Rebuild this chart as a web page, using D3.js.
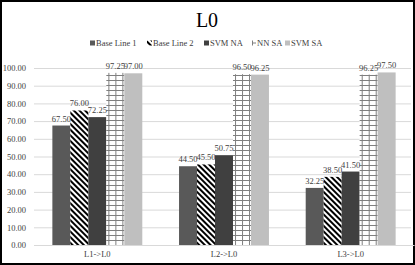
<!DOCTYPE html>
<html>
<head>
<meta charset="utf-8">
<script src="https://cdn.jsdelivr.net/npm/d3@7"></script>
<style>
  body { margin: 0; background: #fff; }
  svg text { font-family: "Liberation Serif", "DejaVu Serif", serif; fill: #404040; }
</style>
</head>
<body>
<div id="chart"></div>
<script>
// chart data
const categories = ["L1->L0", "L2->L0", "L3->L0"];
const seriesNames = ["Base Line 1", "Base Line 2", "SVM NA", "NN SA", "SVM SA"];
const baseLine1 = [67.50, 44.50, 32.25];
const baseLine2 = [76.00, 45.50, 38.50];
const svmNA = [72.25, 50.75, 41.50];
const nnSA = [97.25, 96.50, 96.25];
const svmSA = [97.00, 96.25, 97.50];
const yTicks = [0, 10, 20, 30, 40, 50, 60, 70, 80, 90, 100];

const seriesValues = [baseLine1, baseLine2, svmNA, nnSA, svmSA];

const width = 415;
const height = 265;
const margin = {top: 68, bottom: 20, left: 34, right: 1};
const serif = '"Liberation Serif", "DejaVu Serif", serif';

const svg = d3.select("#chart")
  .append("svg")
  .attr("width", width)
  .attr("height", height)
  .attr("font-family", serif);

// fills
const defs = svg.append("defs");

const stripes = defs.append("pattern")
  .attr("id", "stripes")
  .attr("patternUnits", "userSpaceOnUse")
  .attr("width", 4)
  .attr("height", 4)
  .attr("patternTransform", "rotate(-45)");
stripes.append("rect").attr("width", 4).attr("height", 4).attr("fill", "#fff");
stripes.append("rect").attr("width", 2).attr("height", 4).attr("fill", "#000");

const grid = defs.append("pattern")
  .attr("id", "grid")
  .attr("patternUnits", "userSpaceOnUse")
  .attr("width", 7)
  .attr("height", 5);
grid.append("rect").attr("width", 7).attr("height", 5).attr("fill", "#fff");
grid.append("line").attr("x1", 0.5).attr("x2", 0.5).attr("y1", 0).attr("y2", 5)
  .attr("stroke", "#7f7f7f").attr("stroke-width", 1);
grid.append("line").attr("x1", 0).attr("x2", 7).attr("y1", 0.5).attr("y2", 0.5)
  .attr("stroke", "#7f7f7f").attr("stroke-width", 1);

const fills = ["#595959", "url(#stripes)", "#404040", "url(#grid)", "#bfbfbf"];
const swatchFills = ["#595959", "#000", "#404040", "#7f7f7f", "#bfbfbf"];

// border
svg.append("rect")
  .attr("x", 1).attr("y", 1)
  .attr("width", width - 2).attr("height", height - 2)
  .attr("fill", "none")
  .attr("stroke", "#000")
  .attr("stroke-width", 2);

// title
svg.append("text")
  .attr("x", 207)
  .attr("y", 27)
  .attr("text-anchor", "middle")
  .style("font-family", serif)
  .style("font-size", "20px")
  .style("fill", "#000")
  .text("L0");

// legend
const legendX = [90, 147, 204, 251, 285];
const legend = svg.append("g").attr("id", "legend");
seriesNames.forEach((name, i) => {
  const g = legend.append("g").attr("transform", `translate(${legendX[i]},43)`);
  if (i === 3) {
    g.append("line").attr("x1", 1).attr("x2", 5).attr("y1", 0).attr("y2", 0)
      .attr("stroke", swatchFills[i]);
    g.append("line").attr("x1", 1.5).attr("x2", 1.5).attr("y1", -2.5).attr("y2", 2.5)
      .attr("stroke", swatchFills[i]);
  } else {
    g.append("rect")
      .attr("x", 0).attr("y", -2.5)
      .attr("width", 5).attr("height", 5)
      .attr("fill", fills[i]);
  }
  g.append("text")
    .attr("x", 6)
    .attr("y", 3)
    .style("font-family", serif)
    .style("font-size", "8.5px")
    .text(name);
});

const x0 = d3.scaleBand()
  .domain(categories)
  .range([margin.left, width - margin.right])
  .paddingInner(0.29)
  .paddingOuter(0.145);

const x1 = d3.scaleBand()
  .domain(d3.range(seriesNames.length))
  .range([0, x0.bandwidth()]);

const y = d3.scaleLinear()
  .domain([0, 100])
  .range([height - margin.bottom, margin.top]);

// gridlines and y labels
const yAxis = svg.append("g")
  .attr("transform", `translate(${margin.left},0)`)
  .call(d3.axisLeft(y)
    .tickValues(yTicks)
    .tickSize(-(411 - margin.left))
    .tickPadding(8)
    .tickFormat(d3.format(".2f")));
yAxis.attr("font-family", serif);
yAxis.select(".domain").remove();
yAxis.selectAll(".tick line")
  .attr("stroke", "#d9d9d9");
yAxis.selectAll(".tick text")
  .style("font-family", serif)
  .style("font-size", "8.5px")
  .style("fill", "#404040");

// bars
const groups = svg.append("g")
  .selectAll("g")
  .data(categories)
  .join("g")
  .attr("transform", d => `translate(${x0(d)},0)`);

groups.selectAll("rect")
  .data((d, ci) => seriesValues.map((vals, si) => ({si: si, v: vals[ci]})))
  .join("rect")
  .attr("x", d => x1(d.si))
  .attr("y", d => y(d.v))
  .attr("width", x1.bandwidth())
  .attr("height", d => y(0) - y(d.v))
  .attr("fill", d => fills[d.si]);

// value labels
groups.selectAll("text.val")
  .data((d, ci) => seriesValues.map((vals, si) => ({si: si, v: vals[ci]})))
  .join("text")
  .attr("class", "val")
  .attr("x", d => x1(d.si) + x1.bandwidth() / 2)
  .attr("y", d => y(d.v) - 4)
  .attr("text-anchor", "middle")
  .style("font-family", serif)
  .style("font-size", "8.5px")
  .text(d => d3.format(".2f")(d.v));

// x axis labels
const xAxis = svg.append("g")
  .attr("transform", `translate(0,${y(0)})`)
  .call(d3.axisBottom(x0).tickSize(0).tickPadding(6));
xAxis.attr("font-family", serif);
xAxis.select(".domain").attr("stroke", "#d9d9d9");
xAxis.selectAll(".tick text")
  .style("font-family", serif)
  .style("font-size", "8.5px")
  .style("fill", "#404040");
</script>
</body>
</html>
